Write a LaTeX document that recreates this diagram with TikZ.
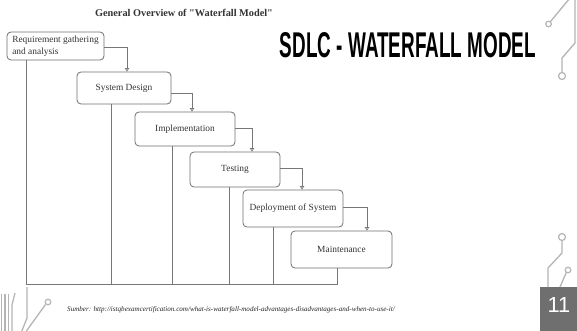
\documentclass[tikz,border=0pt]{standalone}
\usepackage{fontspec}
\setmainfont{Liberation Serif}
\newfontfamily\docserif{Liberation Serif}
\newfontfamily\headfont{Liberation Sans}
\usetikzlibrary{arrows.meta}

\definecolor{boxline}{HTML}{6E6E6E}
\definecolor{flowline}{HTML}{777777}
\definecolor{boxtext}{HTML}{333333}
\definecolor{circuit}{HTML}{B4B4B4}
\definecolor{pagebox}{HTML}{6F6F6F}

\tikzset{
  phase/.style={draw=boxline, line width=0.8pt, rounded corners=4pt,
    inner sep=0pt, text=boxtext, font=\fontsize{9.4}{12}\selectfont},
  flow/.style={draw=flowline, line width=0.7pt},
  flowarrow/.style={flow, -{Triangle[open, length=3.5pt, width=4.5pt]}},
  trace/.style={draw=circuit, line width=1.3pt},
  pad/.style={draw=circuit, line width=1.2pt, fill=white}
}

\begin{document}
\begin{tikzpicture}[x=1pt, y=-1pt]
\useasboundingbox (0,0) rectangle (577,331);

% headings
\node[font=\docserif\bfseries\fontsize{10.3}{12}\selectfont, text=black!80] (overview) at (184,13)
  {General Overview of "Waterfall Model"};
\node[inner sep=0pt] (title) at (408,45.5)
  {\resizebox{256pt}{25pt}{\headfont\bfseries SDLC - WATERFALL MODEL}};

% waterfall phases
\node[phase, minimum width=97pt, minimum height=28pt, align=left] (b1) at (55.5,46)
  {Requirement gathering\\and analysis};
\node[phase, minimum width=94pt, minimum height=32pt] (b2) at (124,88) {System Design};
\node[phase, minimum width=100pt, minimum height=34pt] (b3) at (185,129) {Implementation};
\node[phase, minimum width=90pt, minimum height=35pt] (b4) at (235,169.5) {Testing};
\node[phase, minimum width=100pt, minimum height=37pt] (b5) at (293,208.5) {Deployment of System};
\node[phase, minimum width=101pt, minimum height=37pt] (b6) at (341.5,249.5) {Maintenance};

% step-down arrows
\draw[flowarrow] ([yshift=-1pt]b1.east) -| ([xshift=3pt]b2.north);
\draw[flowarrow] ([yshift=-5pt]b2.east) -| ([xshift=7pt]b3.north);
\draw[flowarrow] ([yshift=1pt]b3.east) -| ([xshift=17pt]b4.north);
\draw[flowarrow] ([yshift=1.5pt]b4.east) -| ([xshift=9pt]b5.north);
\draw[flowarrow] ([yshift=1.5pt]b5.east) -| ([xshift=25.5pt]b6.north);

% feedback lines into the common base
\coordinate (bl) at (26,284);
\coordinate (br) at (337,284);
\draw[flow] (b1.south -| bl) -- (bl) -- (br) -- (b6.south -| br);
\draw[flow] ([xshift=-13pt]b2.south) -- ([xshift=-13pt]b2.south |- bl);
\draw[flow] ([xshift=-13pt]b3.south) -- ([xshift=-13pt]b3.south |- bl);
\draw[flow] ([xshift=-6pt]b4.south) -- ([xshift=-6pt]b4.south |- bl);
\draw[flow] ([xshift=-20pt]b5.south) -- ([xshift=-20pt]b5.south |- bl);

% source line
\node[anchor=base west, inner sep=0pt, font=\itshape\fontsize{7.1}{9}\selectfont, text=black!85] (src) at (67,311)
  {Sumber: http://istqbexamcertification.com/what-is-waterfall-model-advantages-disadvantages-and-when-to-use-it/};

% page number
\fill[pagebox] (540,287) rectangle (577,331);
\node[inner sep=0pt, text=white] (pageno) at (559,305)
  {\resizebox{!}{15pt}{\headfont 11}};

% circuit traces, top right
\draw[trace] (570,-2) -- (550.5,21.5);
\draw[pad] (548.5,24) circle (2.8pt);
\draw[trace] (575,-2) -- (575,43) -- (562,58) -- (562,72.5);
\draw[pad] (562,76) circle (3.5pt);

% circuit traces, bottom right
\draw[pad] (562,237) circle (3.5pt);
\draw[trace] (562,240.5) -- (562,253) -- (548,268) -- (548,287);
\draw[pad] (568,270) circle (2.8pt);
\draw[trace] (566.3,272.5) -- (560,287);

% circuit traces, bottom left
\draw[trace] (1.5,294) -- (1.5,333);
\draw[trace] (5,294) -- (5,333);
\draw[trace] (8.5,294) -- (8.5,333);
\draw[trace] (15,293) -- (12,305) -- (12,333);
\draw[trace] (27,287) -- (27,318) -- (21,333);
\draw[trace] (25,333) -- (45.5,304.5);
\draw[pad] (48,302) circle (2.8pt);
\end{tikzpicture}
\end{document}
